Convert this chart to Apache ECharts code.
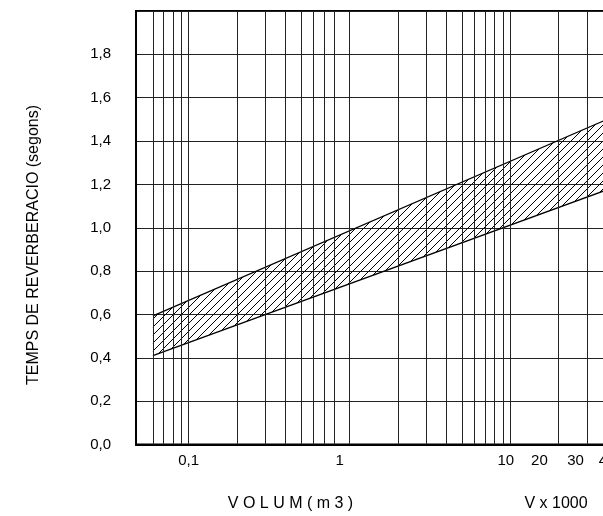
<!DOCTYPE html>
<html><head><meta charset="utf-8">
<style>html,body{margin:0;padding:0;background:#fff}#c{width:603px;height:516px}</style>
<script src="https://cdn.jsdelivr.net/npm/echarts@6/dist/echarts.min.js"></script>
</head><body><div id="c"></div>
<script>
// Band end points (volume, reverberation time in s)
const bandX = [0.06, 40];
const lowerT = [0.41, 1.175];
const upperT = [0.593, 1.50];
// Vertical grid lines of the log paper
const xGridValues = [0.06, 0.07, 0.08, 0.09, 0.1, 0.2, 0.3, 0.4, 0.5, 0.6, 0.7, 0.8, 1,
  2, 3, 4, 5, 6, 7, 8, 9, 10, 20, 30];
// X tick labels and the axis value where each one is printed
const xTickLabels = ['0,1', '1', '10', '20', '30', '40'];
const xTickLabelAt = [0.1, 0.87, 9.4, 15.2, 25.5, 40];

const FONT = '"Liberation Sans", Arial, Helvetica, sans-serif';

function hatch() {
  const c = document.createElement('canvas');
  c.width = 8; c.height = 8;
  const g = c.getContext('2d');
  g.strokeStyle = '#000'; g.lineWidth = 1;
  g.beginPath(); g.moveTo(-1, 9); g.lineTo(9, -1); g.stroke();
  g.beginPath(); g.moveTo(-1, 1); g.lineTo(1, -1); g.stroke();
  g.beginPath(); g.moveTo(7, 9); g.lineTo(9, 7); g.stroke();
  return c;
}
const hatchCanvas = hatch();

const chart = echarts.init(document.getElementById('c'), null, {renderer: 'canvas'});
chart.setOption({
  animation: false,
  backgroundColor: '#fff',
  grid: {left: 136, right: -4, top: 11, bottom: 71.5, show: true, containLabel: false,
    outerBoundsMode: 'none',
    borderColor: '#000', borderWidth: 2, backgroundColor: 'transparent'},
  xAxis: {
    type: 'log', logBase: 10, min: 0.0471, max: 40,
    axisLine: {show: true, lineStyle: {color: '#000', width: 2}},
    axisTick: {show: false},
    splitLine: {show: false},
    axisLabel: {
      customValues: xTickLabelAt,
      formatter: function (v) {
        for (let i = 0; i < xTickLabelAt.length; i++) {
          if (Math.abs(Math.log10(xTickLabelAt[i]) - Math.log10(v)) < 1e-4) return xTickLabels[i];
        }
        return '';
      },
      color: '#000', fontSize: 15, fontFamily: FONT, margin: 9, hideOverlap: false,
      showMinLabel: true, showMaxLabel: true
    }
  },
  yAxis: {
    type: 'value', min: 0, max: 2, interval: 0.2,
    axisLine: {show: true, lineStyle: {color: '#000', width: 2}},
    axisTick: {show: false},
    splitLine: {show: true, lineStyle: {color: '#222', width: 1}},
    axisLabel: {
      showMaxLabel: false,
      formatter: v => v.toFixed(1).replace('.', ','),
      color: '#000', fontSize: 15, fontFamily: FONT, margin: 25
    }
  },
  series: [
    {
      type: 'custom', z: 2, silent: true,
      encode: {x: 0, y: [1, 2]},
      data: bandX.map((x, i) => [x, lowerT[i], upperT[i]]),
      renderItem: function (params, api) {
        if (params.dataIndex !== 0) return null;
        const top = [], bot = [];
        for (let i = 0; i < bandX.length; i++) {
          top.push(api.coord([bandX[i], upperT[i]]));
          bot.push(api.coord([bandX[i], lowerT[i]]));
        }
        return {
          type: 'polygon',
          shape: {points: top.concat(bot.reverse())},
          style: {fill: {image: hatchCanvas, repeat: 'repeat'}, stroke: null}
        };
      }
    },
    {
      type: 'line', symbol: 'none', z: 3,
      data: bandX.map((x, i) => [x, lowerT[i]]),
      lineStyle: {color: '#000', width: 1.3},
      markLine: {
        silent: true, symbol: ['none', 'none'], animation: false,
        label: {show: false},
        lineStyle: {color: '#222', width: 1, type: 'solid'},
        emphasis: {disabled: true},
        data: xGridValues.map(v => ({xAxis: v}))
      }
    },
    {
      type: 'line', symbol: 'none', z: 4,
      data: bandX.map((x, i) => [x, upperT[i]]),
      lineStyle: {color: '#000', width: 1.3}
    }
  ],
  graphic: [
    {type: 'text', x: 34, y: 245, rotation: Math.PI / 2,
      style: {text: 'TEMPS DE REVERBERACIO (segons)', fontSize: 16, fontFamily: FONT,
        fill: '#000', align: 'center', verticalAlign: 'middle'}},
    {type: 'text', x: 290.5, y: 503.5,
      style: {text: 'V O L U M ( m 3 )', fontSize: 16, fontFamily: FONT,
        fill: '#000', align: 'center', verticalAlign: 'middle'}},
    {type: 'text', x: 556, y: 503.5,
      style: {text: 'V x 1000', fontSize: 16, fontFamily: FONT,
        fill: '#000', align: 'center', verticalAlign: 'middle'}}
  ]
});
</script>
</body></html>
